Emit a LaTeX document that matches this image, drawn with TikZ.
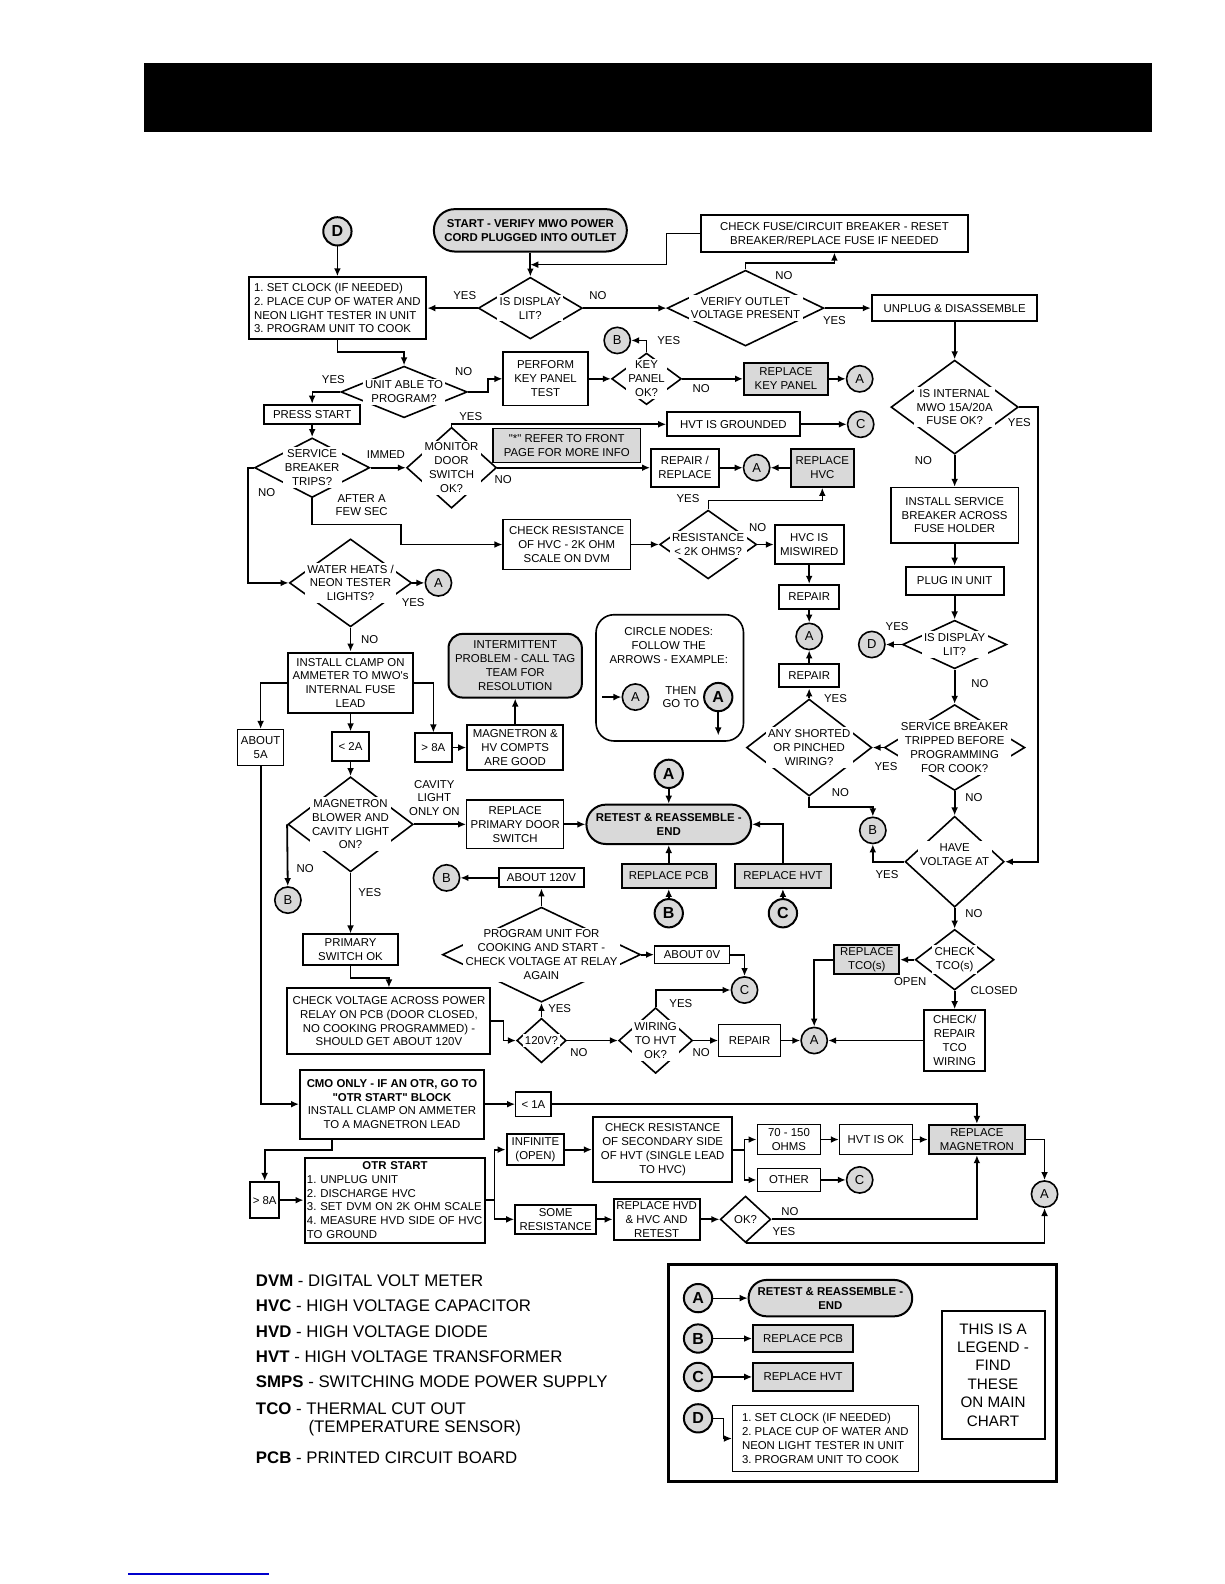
\documentclass[tikz,border=0pt]{standalone}
\usepackage{fontspec}
\setmainfont{Liberation Sans}[Ligatures=TeXOff]
\usepackage{xcolor}
\usepackage{tikz}
\usetikzlibrary{arrows.meta, calc, shapes.geometric}
\definecolor{gfill}{RGB}{217,217,217}
\frenchspacing

\begin{document}
\begin{tikzpicture}[x=0.505pt, y=-0.505pt, >={Latex[length=4pt, width=3.4pt]},
    txt/.style={font=\fontsize{5.7}{6.9}\selectfont, align=center},
    lbl/.style={txt, inner sep=0pt},
    box/.style 2 args={draw, line width=1pt, txt, inner sep=1pt,
        minimum width=#1*0.505pt, minimum height=#2*0.505pt},
    tbox/.style 2 args={box={#1}{#2}, line width=0.6pt},
    gbox/.style 2 args={box={#1}{#2}, fill=gfill},
    pill/.style 2 args={gbox={#1}{#2}, rounded corners=#2*0.25pt,
        font=\fontsize{5.7}{6.9}\selectfont\bfseries},
    dec/.style 2 args={diamond, draw, line width=0.8pt, inner sep=0pt,
        minimum width=#1*0.505pt, minimum height=#2*0.505pt},
    dtxt/.style={txt, fill=white, inner sep=1.2pt},
    circ/.style={circle, draw, fill=gfill, line width=0.8pt, inner sep=0pt,
        minimum size=26*0.505pt, font=\fontsize{6.5}{7}\selectfont},
    bcirc/.style={circ, line width=1pt, minimum size=28*0.505pt,
        font=\fontsize{8}{9}\selectfont\bfseries},
    arr/.style={->, line width=0.9pt},
    tarr/.style={->, line width=0.6pt},
    leg/.style={anchor=west, inner sep=0pt, font=\fontsize{8.4}{10}\selectfont}]
    \useasboundingbox (0,0) rectangle (1212,1568);

    % header bar
    \fill (143,62) rectangle (1140,131);

    % top row
    \node[bcirc] (d1) at (334,229) {D};
    \node[box={176}{61}, align=left] (setclk) at (334,305) {1. SET CLOCK (IF NEEDED)\\2. PLACE CUP OF WATER AND\\NEON LIGHT TESTER IN UNIT\\3. PROGRAM UNIT TO COOK};
    \node[pill={191}{42}] (start) at (525,228) {START - VERIFY MWO POWER\\CORD PLUGGED INTO OUTLET};
    \node[box={264}{36}] (fuse) at (826,231) {CHECK FUSE/CIRCUIT BREAKER - RESET\\BREAKER/REPLACE FUSE IF NEEDED};
    \node[dec={103}{61}, label={[dtxt]center:IS DISPLAY\\LIT?}] (disp1) at (525,305) {};
    \node[dec={155}{75}, label={[dtxt]center:VERIFY OUTLET\\VOLTAGE PRESENT}] (volt) at (738,305) {};
    \node[box={164}{25}] (unplug) at (945,305) {UNPLUG \& DISASSEMBLE};
    \coordinate (jn) at (525,262);

    % right column
    \node[dec={126}{93}, label={[dtxt]center:IS INTERNAL\\MWO 15A/20A\\FUSE OK?}] (fuseok) at (945,403) {};
    \node[tbox={126}{55}] (inst) at (945,510) {INSTALL SERVICE\\BREAKER ACROSS\\FUSE HOLDER};
    \node[box={97}{28}] (plug) at (945,575) {PLUG IN UNIT};
    \node[dec={103}{48}, label={[dtxt]center:IS DISPLAY\\LIT?}] (disp2) at (945,638) {};
    \node[circ] (d2) at (863,638) {D};
    \node[dec={139}{85}, label={[dtxt]center:SERVICE BREAKER\\TRIPPED BEFORE\\PROGRAMMING\\FOR COOK?}] (sbtb) at (945,740) {};
    \node[dec={98}{90}, label={[dtxt, yshift=3.5pt]center:HAVE\\VOLTAGE AT}] (havev) at (945,853) {};
    \node[circ] (b3) at (864,822) {B};
    \node[dec={78}{60}, label={[dtxt]center:CHECK\\TCO(s)}] (tco) at (945,950) {};
    \node[gbox={64}{29}] (reptco) at (858,950) {REPLACE\\TCO(s)};
    \node[box={61}{60}] (tcow) at (945,1030) {CHECK/\\REPAIR\\TCO\\WIRING};
    \node[circ] (a4) at (806,1030) {A};

    % upper middle
    \node[dec={125}{51}, label={[dtxt]center:UNIT ABLE TO\\PROGRAM?}] (unit) at (400,388) {};
    \node[tbox={84}{53}] (perform) at (540,375) {PERFORM\\KEY PANEL\\TEST};
    \node[dec={69}{51}, label={[dtxt]center:KEY\\PANEL\\OK?}] (keyp) at (640,375) {};
    \node[circ] (b1) at (611,337) {B};
    \node[gbox={83}{32}] (repkp) at (778,375) {REPLACE\\KEY PANEL};
    \node[circ] (a1) at (851,375) {A};
    \node[box={95}{19}] (press) at (309,410) {PRESS START};
    \node[dec={114}{59}, label={[dtxt]center:SERVICE\\BREAKER\\TRIPS?}] (sbt) at (309,463) {};
    \node[dec={89}{80}, label={[dtxt]center:MONITOR\\DOOR\\SWITCH\\OK?}] (mon) at (447,463) {};
    \node[box={131}{24}] (hvtg) at (726,420) {HVT IS GROUNDED};
    \node[circ] (c1) at (852,420) {C};
    \node[gbox={146}{33}, line width=0.6pt] (refer) at (561,441) {"*" REFER TO FRONT\\PAGE FOR MORE INFO};
    \node[box={67}{38}] (reprep) at (678,463) {REPAIR /\\REPLACE};
    \node[circ] (a2) at (749,463) {A};
    \node[gbox={62}{38}] (rephvc) at (814,463) {REPLACE\\HVC};
    \node[tbox={126}{49}] (chkhvc) at (561,539) {CHECK RESISTANCE\\OF HVC - 2K OHM\\SCALE ON DVM};
    \node[dec={96}{68}, label={[dtxt]center:RESISTANCE\\< 2K OHMS?}] (res) at (701,539) {};
    \node[box={68}{38}] (misw) at (801,539) {HVC IS\\MISWIRED};
    \node[box={60}{24}] (rep1) at (801,591) {REPAIR};
    \node[circ] (a3) at (801,630) {A};
    \node[box={60}{23}] (rep2) at (801,669) {REPAIR};
    \node[dec={124}{96}, label={[dtxt]center:ANY SHORTED\\OR PINCHED\\WIRING?}] (shrt) at (801,740) {};

    % lower middle
    \node[dec={121}{87}, label={[dtxt]center:WATER HEATS /\\NEON TESTER\\LIGHTS?}] (water) at (347,577) {};
    \node[circ] (a5) at (434,577) {A};
    \node[box={124}{60}] (clamp) at (347,676) {INSTALL CLAMP ON\\AMMETER TO MWO's\\INTERNAL FUSE\\LEAD};
    \node[tbox={46}{36}] (about5) at (258,740) {ABOUT\\5A};
    \node[box={36}{28}] (lt2) at (347,739) {< 2A};
    \node[box={37}{28}] (gt8) at (429,740) {> 8A};
    \node[box={95}{44}] (mhv) at (510,740) {MAGNETRON \&\\HV COMPTS\\ARE GOOD};
    \node[gbox={132}{63}, rounded corners=7pt] (inter) at (510,659) {INTERMITTENT\\PROBLEM - CALL TAG\\TEAM FOR\\RESOLUTION};
    \node[tbox={146}{125}, rounded corners=9pt, line width=0.8pt] (cnote) at (663,671) {};
    \node[lbl] (cntxt) at (662,639) {CIRCLE NODES:\\FOLLOW THE\\ARROWS - EXAMPLE:};
    \coordinate (cin) at (596,690);
    \node[circ] (ca) at (629,690) {A};
    \node[lbl] (then) at (674,690) {THEN\\GO TO};
    \node[bcirc] (cab) at (711,690) {A};
    \coordinate (cout) at (711,728);
    \node[dec={124}{94}, label={[dtxt]center:MAGNETRON\\BLOWER AND\\CAVITY LIGHT\\ON?}] (mag) at (347,816) {};
    \node[tbox={96}{48}] (rpds) at (510,816) {REPLACE\\PRIMARY DOOR\\SWITCH};
    \node[pill={163}{39}] (retest) at (662,816) {RETEST \& REASSEMBLE -\\END};
    \node[bcirc] (a6) at (662,766) {A};
    \node[gbox={93}{24}] (reppcb) at (662,867) {REPLACE PCB};
    \node[gbox={95}{24}] (rephvt) at (775,867) {REPLACE HVT};
    \node[bcirc] (b5) at (662,904) {B};
    \node[bcirc] (c3) at (775,904) {C};
    \node[circ] (b4) at (285,891) {B};
    \node[box={84}{19}] (a120) at (536,869) {ABOUT 120V};
    \node[circ] (b6) at (442,869) {B};
    \node[dec={196}{94}, label={[dtxt]center:PROGRAM UNIT FOR\\COOKING AND START -\\CHECK VOLTAGE AT RELAY\\AGAIN}] (prog) at (536,945) {};
    \node[tbox={74}{17}] (a0v) at (685,945) {ABOUT 0V};
    \node[circ] (c4) at (737,980) {C};
    \node[box={94}{30}] (psok) at (347,940) {PRIMARY\\SWITCH OK};
    \node[box={201}{65}] (chkv) at (385,1011) {CHECK VOLTAGE ACROSS POWER\\RELAY ON PCB (DOOR CLOSED,\\NO COOKING PROGRAMMED) -\\SHOULD GET ABOUT 120V};
    \node[dec={49}{44}, label={[dtxt]center:120V?}] (v120) at (536,1030) {};
    \node[dec={73}{65}, label={[dtxt]center:WIRING\\TO HVT\\OK?}] (wir) at (649,1030) {};
    \node[tbox={61}{31}] (rep3) at (742,1030) {REPAIR};

    % bottom rows
    \node[box={182}{68}] (cmo) at (388,1093) {\textbf{CMO ONLY - IF AN OTR, GO TO}\\\textbf{"OTR START" BLOCK}\\INSTALL CLAMP ON AMMETER\\TO A MAGNETRON LEAD};
    \node[tbox={35}{24}] (lt1) at (528,1093) {< 1A};
    \node[box={29}{36}] (gt8b) at (262,1188) {> 8A};
    \node[box={179}{84}, align=left, text width=88pt] (otr) at (391,1188) {\hfil\textbf{OTR START}\hfil\\1. UNPLUG UNIT\\2. DISCHARGE HVC\\3. SET DVM ON 2K OHM SCALE\\4. MEASURE HVD SIDE OF HVC\\TO GROUND};
    \node[box={57}{31}] (inf) at (530,1138) {INFINITE\\(OPEN)};
    \node[box={138}{64}] (chks) at (656,1138) {CHECK RESISTANCE\\OF SECONDARY SIDE\\OF HVT (SINGLE LEAD\\TO HVC)};
    \node[tbox={63}{29}] (o70) at (781,1128) {70 - 150\\OHMS};
    \node[tbox={72}{29}] (hvtok) at (867,1128) {HVT IS OK};
    \node[gbox={95}{29}] (repmag) at (967,1128) {REPLACE\\MAGNETRON};
    \node[tbox={63}{23}] (other) at (781,1168) {OTHER};
    \node[circ] (c5) at (851,1168) {C};
    \node[box={80}{29}] (some) at (550,1207) {SOME\\RESISTANCE};
    \node[box={85}{41}] (rhvd) at (650,1207) {REPLACE HVD\\\& HVC AND\\RETEST};
    \node[dec={50}{46}, label={[dtxt]center:OK?}] (ok) at (738,1207) {};
    \node[circ] (a7) at (1034,1182) {A};

    % branch labels
    \node[lbl] (ly1) at (460,293) {YES};
    \node[lbl] (ln1) at (592,293) {NO};
    \node[lbl] (ln2) at (776,273) {NO};
    \node[lbl] (ly2) at (826,317) {YES};
    \node[lbl] (ly3) at (1009,418) {YES};
    \node[lbl] (ln3) at (914,456) {NO};
    \node[lbl] (ly4) at (888,620) {YES};
    \node[lbl] (ln4) at (970,677) {NO};
    \node[lbl] (ly5) at (877,759) {YES};
    \node[lbl] (ln5) at (964,790) {NO};
    \node[lbl] (ly6) at (878,866) {YES};
    \node[lbl] (ln6) at (964,904) {NO};
    \node[lbl] (lopen) at (901,972) {OPEN};
    \node[lbl] (lclosed) at (984,981) {CLOSED};
    \node[lbl] (ly7) at (330,376) {YES};
    \node[lbl] (ln7) at (459,368) {NO};
    \node[lbl] (ly8) at (662,337) {YES};
    \node[lbl] (ln8) at (694,385) {NO};
    \node[lbl] (limmed) at (382,450) {IMMED};
    \node[lbl] (ln9) at (264,488) {NO};
    \node[lbl] (lafter) at (358,500) {AFTER A\\FEW SEC};
    \node[lbl] (ly10) at (466,412) {YES};
    \node[lbl] (ln10) at (498,475) {NO};
    \node[lbl] (ly11) at (681,494) {YES};
    \node[lbl] (ln11) at (750,522) {NO};
    \node[lbl] (ly12) at (827,692) {YES};
    \node[lbl] (ln12) at (832,785) {NO};
    \node[lbl] (ly13) at (409,596) {YES};
    \node[lbl] (ln13) at (366,633) {NO};
    \node[lbl] (lcav) at (430,790) {CAVITY\\LIGHT\\ONLY ON};
    \node[lbl] (ln14) at (302,860) {NO};
    \node[lbl] (ly14) at (366,884) {YES};
    \node[lbl] (ly15) at (554,998) {YES};
    \node[lbl] (ln15) at (573,1042) {NO};
    \node[lbl] (ly16) at (674,993) {YES};
    \node[lbl] (ln16) at (694,1042) {NO};
    \node[lbl] (ln17) at (782,1199) {NO};
    \node[lbl] (ly17) at (776,1219) {YES};

    % connectors, top
    \draw[arr] (d1) -- (setclk.north);
    \draw[arr] (start) -- (disp1.north);
    \draw[tarr] (fuse.west) -- ++(-33,0) |- (jn);
    \draw[arr] (disp1.west) -- (setclk.east);
    \draw[arr] (disp1.east) -- (volt.west);
    \draw[arr] (volt.north) -- ++(0,-6) -| (fuse.south);
    \draw[arr] (volt.east) -- (unplug.west);
    \draw[arr] (unplug) -- (fuseok.north);

    % connectors, right column
    \draw[arr] (fuseok.east) -- ++(19,0) |- (havev.east);
    \draw[arr] (fuseok.south) -- (inst.north);
    \draw[arr] (inst) -- (plug);
    \draw[arr] (plug) -- (disp2.north);
    \draw[arr] (disp2.west) -- (d2);
    \draw[arr] (disp2.south) -- (sbtb.north);
    \draw[arr] (sbtb.west) -- (shrt.east);
    \draw[arr] (sbtb.south) -- (havev.north);
    \draw[arr] (havev.west) -| (b3);
    \draw[arr] (havev.south) -- (tco.north);
    \draw[arr] (tco.west) -- (reptco);
    \draw[arr] (tco.south) -- (tcow);
    \draw[arr] (reptco.west) -| (a4);
    \draw[arr] (tcow) -- (a4);

    % connectors, upper middle
    \draw[arr] (setclk.south) -- ++(0,12) -| (unit.north);
    \draw[tarr] (unit.west) -| (press.north);
    \draw[arr] (unit.east) -- ++(20,0) |- (perform.west);
    \draw[arr] (perform) -- (keyp.west);
    \draw[arr] (keyp.north) |- (b1);
    \draw[arr] (keyp.east) -- (repkp);
    \draw[arr] (repkp) -- (a1);
    \draw[arr] (press) -- (sbt.north);
    \draw[arr] (sbt.east) -- (mon.west);
    \draw[arr] (sbt.west) -- ++(-6,0) |- (water.west);
    \draw[arr] (sbt.south) -- ++(0,26) -- ++(88,0) |- (chkhvc);
    \draw[arr] (mon.north) |- (hvtg);
    \draw[arr] (mon.east) -- (reprep);
    \draw[arr] (hvtg) -- (c1);
    \draw[arr] (reprep) -- (a2);
    \draw[arr] (rephvc) -- (a2);
    \draw[arr] (chkhvc) -- (res.west);
    \draw[tarr] (res.north) -- ++(0,-9) -| (rephvc);
    \draw[arr] (res.east) -- (misw);
    \draw[arr] (misw) -- (rep1);
    \draw[arr] (rep1) -- (a3);
    \draw[arr] (rep2) -- (a3);
    \draw[arr] (shrt.north) -- (rep2);
    \draw[arr] (shrt.south) -- ++(0,10) -| (b3);

    % connectors, lower middle
    \draw[arr] (water.east) -- (a5);
    \draw[arr] (water.south) -- (clamp);
    \draw[tarr] (clamp.west) -| (about5);
    \draw[arr] (clamp) -- (lt2);
    \draw[tarr] (clamp.east) -| (gt8);
    \draw[arr] (gt8) -- (mhv);
    \draw[arr] (mhv) -- (inter);
    \draw[arr] (lt2) -- (mag.north);
    \draw[arr] (mag.east) -- (rpds);
    \draw[arr] (rpds) -- (retest);
    \draw[arr] (mag.west) -- (b4);
    \draw[arr] (mag.south) -- (psok);
    \draw[arr] (a6) -- (retest);
    \draw[arr] (reppcb) -- (retest);
    \draw[arr] (rephvt.north) |- (retest.east);
    \draw[arr] (b5) -- (reppcb);
    \draw[arr] (c3) -- (rephvt);
    \draw[arr] (a120) -- (b6);
    \draw[arr] (prog.north) -- (a120);
    \draw[arr] (prog.east) -- (a0v);
    \draw[arr] (a0v.east) -| (c4);
    \draw[arr] (psok.south) -- ++(0,12) -| (chkv.north);
    \draw[arr] (chkv.east) -- ++(12,0) |- (v120.west);
    \draw[arr] (v120.north) -- (prog.south);
    \draw[arr] (v120.east) -- (wir.west);
    \draw[arr] (wir.north) |- (c4);
    \draw[arr] (wir.east) -- (rep3);
    \draw[arr] (rep3) -- (a4);
    \draw[arr] (cin) -- (ca);
    \draw[arr] (cab) -- (cout);

    % connectors, bottom rows
    \draw[arr] (about5.south) |- (cmo.west);
    \draw[arr] (cmo) -- (lt1);
    \draw[arr] (lt1.east) -| (repmag.north);
    \draw[arr] ($(cmo.south)+(-59,0)$) -- ++(0,10) -| (gt8b.north);
    \draw[arr] (gt8b) -- (otr);
    \draw[arr] (otr.east) -- ++(8,0) coordinate (j1) |- (inf.west);
    \draw[arr] (j1) |- (some.west);
    \draw[arr] (inf) -- (chks);
    \draw[arr] (chks.east) -- ++(11,0) coordinate (j2) |- (o70.west);
    \draw[arr] (j2) |- (other.west);
    \draw[arr] (o70) -- (hvtok);
    \draw[arr] (hvtok) -- (repmag);
    \draw[arr] (other) -- (c5);
    \draw[arr] (repmag.east) -| (a7);
    \draw[arr] (some) -- (rhvd);
    \draw[arr] (rhvd) -- (ok.west);
    \draw[arr] (ok.east) -| (repmag.south);
    \draw[arr] (ok.south) -| (a7);

    % abbreviations
    \node[leg] (kdvm) at (253,1268) {\textbf{DVM} - DIGITAL VOLT METER};
    \node[leg] (khvc) at (253,1293) {\textbf{HVC} - HIGH VOLTAGE CAPACITOR};
    \node[leg] (khvd) at (253,1318) {\textbf{HVD} - HIGH VOLTAGE DIODE};
    \node[leg] (khvt) at (253,1343) {\textbf{HVT} - HIGH VOLTAGE TRANSFORMER};
    \node[leg] (ksmps) at (253,1368) {\textbf{SMPS} - SWITCHING MODE POWER SUPPLY};
    \node[leg] (ktco) at (253,1394) {\textbf{TCO} - THERMAL CUT OUT};
    \node[leg] (ktco2) at (305,1414) {(TEMPERATURE SENSOR)};
    \node[leg] (kpcb) at (253,1443) {\textbf{PCB} - PRINTED CIRCUIT BOARD};

    % legend
    \draw[line width=1.5pt] (662,1252) rectangle (1046,1467);
    \node[bcirc] (la) at (691,1285) {A};
    \node[pill={162}{36}] (lret) at (822,1285) {RETEST \& REASSEMBLE -\\END};
    \node[bcirc] (lb) at (691,1325) {B};
    \node[gbox={99}{27}] (lpcb) at (795,1325) {REPLACE PCB};
    \node[bcirc] (lc) at (691,1363) {C};
    \node[gbox={99}{27}] (lhvt) at (795,1363) {REPLACE HVT};
    \node[bcirc] (ld) at (691,1404) {D};
    \node[tbox={184}{66}, align=left] (lclk) at (817,1424) {1. SET CLOCK (IF NEEDED)\\2. PLACE CUP OF WATER AND\\NEON LIGHT TESTER IN UNIT\\3. PROGRAM UNIT TO COOK};
    \node[box={102}{126}, font=\fontsize{7.6}{9.2}\selectfont] (lnote) at (983,1361) {THIS IS A\\LEGEND -\\FIND\\THESE\\ON MAIN\\CHART};
    \draw[tarr] (la) -- (lret);
    \draw[arr] (lb) -- (lpcb);
    \draw[tarr] (lc) -- (lhvt);
    \draw[tarr] (ld.east) -- ++(10,0) |- (lclk.west);

    % link underline
    \draw[blue!80!black, line width=0.6pt] (127,1558) -- (266,1558);
\end{tikzpicture}
\end{document}
